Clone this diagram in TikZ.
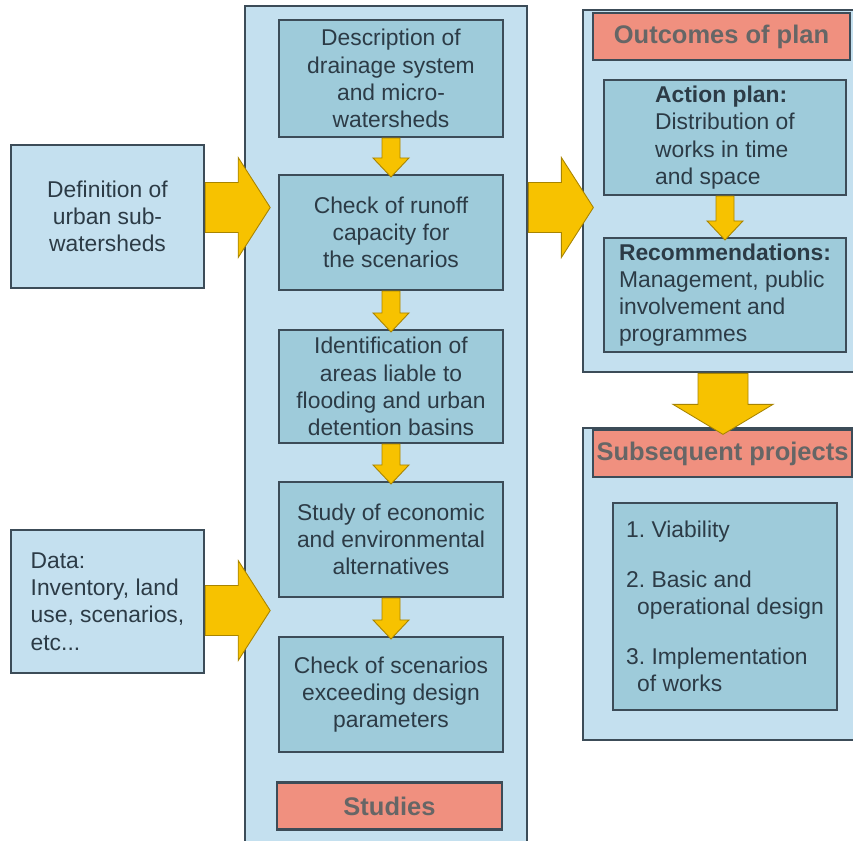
\documentclass[tikz,border=0pt]{standalone}
\usepackage{fontspec}
\setmainfont{Liberation Sans}
\usepackage{tikz}
\usetikzlibrary{calc}
\definecolor{wsline}{HTML}{3C4C58}
\definecolor{wsouter}{HTML}{C4E0EF}
\definecolor{wsinner}{HTML}{9ECBDA}
\definecolor{wssalmon}{HTML}{F0907F}
\definecolor{wsgold}{HTML}{F7C200}
\definecolor{wsgoldedge}{HTML}{A88400}
\definecolor{wstext}{HTML}{2C3B46}

\begin{document}
\begin{tikzpicture}[x=0.02cm,y=-0.02cm,
  outerbox/.style={draw=wsline,line width=1.6pt,fill=wsouter},
  stepbox/.style={draw=wsline,line width=1.2pt,fill=wsinner,text=wstext,
    font=\fontsize{13}{15.5}\selectfont,align=center,inner sep=0pt,
    minimum width=4.48cm},
  inputbox/.style={draw=wsline,line width=1.4pt,fill=wsouter,text=wstext,
    font=\fontsize{13}{15.5}\selectfont,inner sep=0pt,
    minimum width=3.86cm,minimum height=2.86cm},
  tagbox/.style={draw=wsline,line width=1.2pt,fill=wssalmon,text=black!60,
    font=\fontsize{14.5}{16}\selectfont\bfseries,inner sep=0pt,minimum height=0.94cm},
  goldarrow/.style={fill=wsgold,draw=wsgoldedge,line width=0.5pt,line join=miter}]
  \useasboundingbox (0,0) rectangle (853,840);
  \clip (0,0) rectangle (853,840);
  \fill[white] (0,0) rectangle (853,840);
  % inputs on the left
  \node[inputbox,align=center] (defn) at (107.5,216.5) {Definition of\\urban sub-\\watersheds};
  \node[inputbox,align=left] (data) at (107.5,601.5) {Data:\\Inventory, land\\use, scenarios,\\etc...};
  % studies column
  \node[outerbox,minimum width=5.64cm,minimum height=16.88cm] (studies) at (386,428) {};
  \node[stepbox,minimum height=2.34cm] (descr) at (391,78.5) {Description of\\drainage system\\and micro-\\watersheds};
  \node[stepbox,minimum height=2.3cm] (runoff) at (391,232.5) {Check of runoff\\capacity for\\the scenarios};
  \node[stepbox,minimum height=2.26cm] (ident) at (391,386.5) {Identification of\\areas liable to\\flooding and urban\\detention basins};
  \node[stepbox,minimum height=2.3cm] (econ) at (391,539.5) {Study of economic\\and environmental\\alternatives};
  \node[stepbox,minimum height=2.3cm] (exceed) at (391,694.5) {Check of scenarios\\exceeding design\\parameters};
  \node[tagbox,minimum width=4.5cm] (studtag) at (389.5,806) {Studies};
  % outcomes of plan
  \node[outerbox,minimum width=5.6cm,minimum height=7.24cm] (plan) at (723,191) {};
  \node[tagbox,minimum width=5.14cm] (outtag) at (721.5,36.5) {Outcomes of plan};
  \node[stepbox,align=left,minimum width=4.84cm,minimum height=2.3cm] (action) at (725,137.5)
    {\textbf{Action plan:}\\Distribution of\\works in time\\and space};
  \node[stepbox,align=left,minimum width=4.84cm,minimum height=2.28cm] (recomm) at (725,295)
    {\textbf{Recommendations:}\\Management, public\\involvement and\\programmes};
  % subsequent projects
  \node[outerbox,minimum width=5.6cm,minimum height=6.24cm] (subseq) at (723,584) {};
  \node[tagbox,minimum width=5.18cm] (subtag) at (722.5,453.5) {Subsequent projects};
  \node[stepbox,align=left,minimum height=4.14cm] (works) at (725,606.5)
    {1.\ Viability\\[0.45cm]2.\ Basic and\\\hspace*{0.22cm}operational design\\[0.45cm]3.\ Implementation\\\hspace*{0.22cm}of works};
  % fat arrows
  \foreach \s/\dy in {defn.east/-9, data.east/9, studies.east|-defn.east/-9}
    \filldraw[goldarrow] ($(\s)+(0,\dy-25)$) -- ++(33,0) -- ++(0,-25) -- ++(32,50)
      -- ++(-32,50) -- ++(0,-25) -- ++(-33,0) -- cycle;
  \filldraw[goldarrow] ($(plan.south)+(-25,0)$) -- ++(0,31) -- ++(-25,0) -- ++(50,30)
    -- ++(50,-30) -- ++(-25,0) -- ++(0,-31) -- cycle;
  % small arrows between steps
  \foreach \u/\v in {descr/runoff,runoff/ident,ident/econ,econ/exceed,action/recomm}
    \filldraw[goldarrow] ($(\u.south)+(-9,0)$) -- ($(\v.north)+(-9,-16)$) -- ++(-9,0)
      -- ($(\v.north)+(0,3)$) -- ($(\v.north)+(18,-16)$) -- ++(-9,0)
      -- ($(\u.south)+(9,0)$) -- cycle;
\end{tikzpicture}
\end{document}
